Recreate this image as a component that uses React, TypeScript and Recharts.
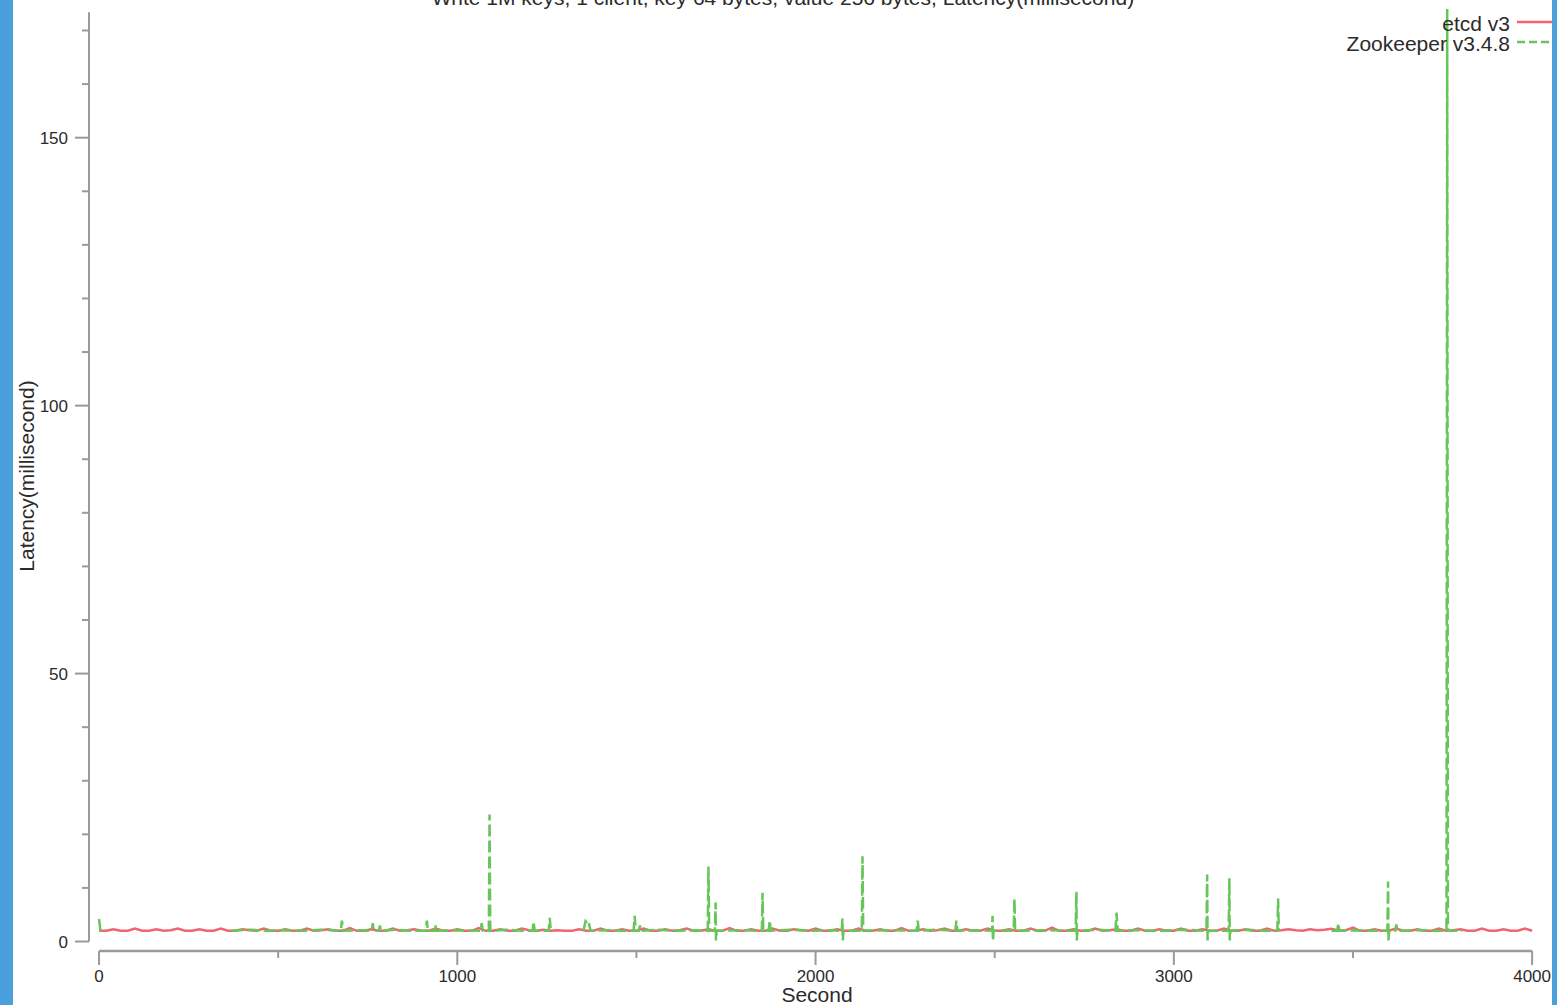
import React from 'react';
import { LineChart, Line, XAxis, YAxis, ReferenceLine } from 'recharts';

const TITLE = 'Write 1M keys, 1 client, key 64 bytes, value 256 bytes, Latency(millisecond)';
const X_LABEL = 'Second';
const Y_LABEL = 'Latency(millisecond)';
const ETCD_NAME = 'etcd v3';
const ZK_NAME = 'Zookeeper v3.4.8';

const xTicks = [0, 500, 1000, 1500, 2000, 2500, 3000, 3500, 4000];
const xLabelled = [0, 1000, 2000, 3000, 4000];
const yTicks = [0, 10, 20, 30, 40, 50, 60, 70, 80, 90, 100, 110, 120, 130, 140, 150, 160, 170];
const yLabelled = [0, 50, 100, 150];

// etcd samples, one every 20 seconds from 0 to 4000
const ETCD_STEP = 20;
const etcdLatency = [
  2.0, 2.0, 2.3, 2.0, 2.0, 2.4, 2.0, 2.0, 2.3, 2.0, 2.1, 2.4, 2.0, 2.0, 2.3,
  2.0, 2.0, 2.4, 2.0, 2.0, 2.3, 2.1, 2.0, 2.4, 2.0, 2.0, 2.3, 2.0, 2.0, 2.4,
  2.0, 2.1, 2.3, 2.0, 2.0, 2.5, 2.0, 2.0, 2.3, 2.0, 2.0, 2.4, 2.0, 2.1, 2.3,
  2.0, 2.0, 2.4, 2.0, 2.0, 2.3, 2.0, 2.0, 2.5, 2.0, 2.0, 2.3, 2.0, 2.0, 2.4,
  2.1, 2.0, 2.2, 2.0, 2.1, 2.0, 2.0, 2.3, 2.0, 2.0, 2.4, 2.0, 2.0, 2.3, 2.0,
  2.0, 2.4, 2.0, 2.0, 2.3, 2.0, 2.1, 2.4, 2.0, 2.0, 2.3, 2.0, 2.0, 2.5, 2.0,
  2.0, 2.3, 2.0, 2.0, 2.4, 2.0, 2.0, 2.3, 2.1, 2.0, 2.4, 2.0, 2.0, 2.3, 2.0,
  2.0, 2.4, 2.0, 2.0, 2.3, 2.0, 2.0, 2.5, 2.0, 2.0, 2.3, 2.0, 2.1, 2.4, 2.0,
  2.0, 2.3, 2.0, 2.0, 2.4, 2.0, 2.0, 2.3, 2.0, 2.0, 2.4, 2.0, 2.0, 2.6, 2.0,
  2.0, 2.3, 2.0, 2.0, 2.4, 2.0, 2.1, 2.3, 2.0, 2.0, 2.4, 2.0, 2.0, 2.3, 2.0,
  2.0, 2.4, 2.0, 2.0, 2.3, 2.0, 2.0, 2.4, 2.0, 2.0, 2.3, 2.0, 2.0, 2.4, 2.0,
  2.1, 2.3, 2.1, 2.0, 2.3, 2.1, 2.2, 2.4, 2.0, 2.1, 2.6, 2.0, 2.0, 2.3, 2.0,
  2.0, 2.4, 2.0, 2.0, 2.3, 2.0, 2.0, 2.4, 2.0, 2.1, 2.3, 2.0, 2.0, 2.4, 2.0,
  2.0, 2.3, 2.0, 2.0, 2.4, 2.0,
];

// zookeeper: [second, latency]; null = no sample (gap in the line)
const zookeeper: [number, number | null][] = [
  [0, 4.2], [4, 2.0], [8, 2.0], [10, null],
  [370, 2.0], [420, 2.2], [470, 2.0], [520, 2.1], [570, 2.0], [620, 2.2], [675, 2.0], [678, 3.9], [681, 2.0],
  [720, 2.1], [761, 2.0], [764, 3.4], [767, 2.0], [781, 2.0], [784, 3.0], [787, 2.0], [830, 2.2], [870, 2.0],
  [912, 2.0], [915, 3.9], [918, 2.0], [937, 2.0], [940, 3.0], [943, 2.0], [1000, 2.1], [1065, 2.0], [1068, 3.4],
  [1071, 2.0], [1088, 2.0], [1090, 23.7], [1092, 2.0], [1140, 2.2], [1180, 2.0], [1210, 2.0], [1213, 3.7],
  [1216, 2.0], [1255, 2.0], [1258, 4.4], [1261, 2.0], [1263, null],
  [1352, 2.0], [1358, 3.8], [1362, 3.5], [1366, 3.8], [1372, 2.0], [1420, 2.1], [1460, 2.0], [1492, 2.0],
  [1495, 4.8], [1498, 2.0], [1507, 2.0], [1510, 3.0], [1513, 2.0], [1560, 2.2], [1610, 2.0], [1660, 2.1],
  [1699, 2.0], [1701, 14.0], [1703, 2.0], [1719, 2.0], [1721, 7.3], [1722, 0.2], [1724, 2.0], [1790, 2.1],
  [1850, 2.0], [1852, 9.1], [1854, 2.0], [1869, 2.0], [1872, 3.9], [1875, 2.0], [1930, 2.2], [1990, 2.0],
  [2040, 2.1], [2073, 2.0], [2075, 4.3], [2076, 0.2], [2078, 2.0], [2129, 2.0], [2131, 15.9], [2133, 2.0],
  [2200, 2.1], [2282, 2.0], [2285, 3.9], [2288, 2.0], [2340, 2.2], [2390, 2.0], [2393, 3.9], [2396, 2.0],
  [2450, 2.1], [2492, 2.0], [2494, 4.8], [2495, 0.2], [2497, 2.0], [2553, 2.0], [2555, 8.0], [2557, 2.0],
  [2640, 2.1], [2726, 2.0], [2728, 9.3], [2729, 0.2], [2731, 2.0], [2790, 2.2], [2837, 2.0], [2840, 5.4],
  [2843, 2.0], [2900, 2.1], [2960, 2.0], [3030, 2.2], [3091, 2.0], [3093, 12.5], [3094, 0.2], [3096, 2.0],
  [3153, 2.0], [3155, 11.8], [3156, 0.2], [3158, 2.0], [3210, 2.2], [3250, 2.0], [3289, 2.0], [3291, 8.0],
  [3293, 2.0], [3295, null],
  [3440, 2.0], [3456, 2.0], [3459, 3.4], [3462, 2.0], [3510, 2.1], [3560, 2.0], [3596, 2.0], [3598, 11.2],
  [3599, 0.2], [3601, 2.0], [3618, 2.0], [3621, 3.2], [3624, 2.0], [3680, 2.1], [3730, 2.0], [3761, 2.0],
  [3763, 174], [3765, 2.0], [3805, 2.0],
];

const RED = '#f0656f';
const GREEN = '#66c65a';
const AXIS = '#9a9a9a';
const TEXT = '#2b2b2b';
const BLUE = '#4aa0dc';
const FONT = '"Liberation Sans", Arial, Helvetica, sans-serif';

const etcdData = etcdLatency.map((v, i) => ({ t: i * ETCD_STEP, v }));
const zkData = zookeeper.map(([t, v]) => ({ t, v }));

const XTick = ({ x, y, payload }: any) => {
  const major = xLabelled.includes(payload.value);
  return (
    <g>
      <line x1={x} x2={x} y1={y} y2={y + (major ? 14 : 7)} stroke={AXIS} strokeWidth={2} />
      {major && (
        <text x={x} y={y + 31} textAnchor="middle" fontSize={17} fill={TEXT} fontFamily={FONT}>
          {payload.value}
        </text>
      )}
    </g>
  );
};

const YTick = ({ x, y, payload }: any) => {
  const major = yLabelled.includes(payload.value);
  return (
    <g>
      <line x1={x - (major ? 14 : 7)} x2={x} y1={y} y2={y} stroke={AXIS} strokeWidth={2} />
      {major && (
        <text x={x - 21} y={y + 6} textAnchor="end" fontSize={17} fill={TEXT} fontFamily={FONT}>
          {payload.value}
        </text>
      )}
    </g>
  );
};

const LegendRow = ({ label, color, dash, top }: { label: string; color: string; dash?: string; top: number }) => (
  <div style={{ position: 'absolute', top, right: 0, height: 20, display: 'flex', alignItems: 'center' }}>
    <span style={{ fontSize: 21, lineHeight: '20px', color: TEXT, marginTop: 4 }}>{label}</span>
    <svg width={40} height={20} style={{ marginLeft: 7 }}>
      <line x1={0} x2={40} y1={10} y2={10} stroke={color} strokeWidth={2.5} strokeDasharray={dash} />
    </svg>
  </div>
);

export default function App() {
  return (
    <div
      style={{
        position: 'fixed', left: 0, top: 0, width: 1557, height: 1005,
        background: '#fff', overflow: 'hidden', fontFamily: FONT,
      }}
    >
      <div
        style={{
          position: 'absolute', top: -13, left: 283, width: 1000, textAlign: 'center',
          fontSize: 21, lineHeight: '21px', color: TEXT, whiteSpace: 'nowrap',
        }}
      >
        {TITLE}
      </div>

      <LineChart
        width={1557}
        height={1005}
        margin={{ top: 8, right: 17, left: 0, bottom: 0 }}
        style={{ position: 'absolute', left: 0, top: 0 }}
      >
        <XAxis
          type="number"
          dataKey="t"
          domain={[-28, 4022]}
          allowDataOverflow
          ticks={xTicks}
          interval={0}
          height={54}
          axisLine={false}
          tickLine={false}
          tickSize={0}
          tickMargin={0}
          tick={<XTick />}
        />
        <YAxis
          type="number"
          domain={[-1.77, 174.2]}
          allowDataOverflow
          ticks={yTicks}
          interval={0}
          width={89}
          axisLine={false}
          tickLine={false}
          tickSize={0}
          tickMargin={0}
          tick={<YTick />}
        />
        <ReferenceLine
          segment={[{ x: 0, y: -1.77 }, { x: 4000, y: -1.77 }]}
          stroke={AXIS}
          strokeWidth={2.5}
          ifOverflow="visible"
        />
        <ReferenceLine
          segment={[{ x: -28, y: 0 }, { x: -28, y: 173.4 }]}
          stroke={AXIS}
          strokeWidth={2}
          ifOverflow="visible"
        />
        <Line
          data={etcdData}
          dataKey="v"
          name={ETCD_NAME}
          type="linear"
          stroke={RED}
          strokeWidth={2.5}
          dot={false}
          activeDot={false}
          isAnimationActive={false}
        />
        <Line
          data={zkData}
          dataKey="v"
          name={ZK_NAME}
          type="linear"
          stroke={GREEN}
          strokeWidth={2.5}
          strokeDasharray="12 4"
          dot={false}
          activeDot={false}
          connectNulls={false}
          isAnimationActive={false}
        />
      </LineChart>

      <div
        style={{
          position: 'absolute', left: 26, top: 476, transform: 'translate(-50%, -50%) rotate(-90deg)',
          fontSize: 21, lineHeight: '21px', color: TEXT, whiteSpace: 'nowrap',
        }}
      >
        {Y_LABEL}
      </div>
      <div
        style={{
          position: 'absolute', left: 617, top: 984, width: 400, textAlign: 'center',
          fontSize: 21, lineHeight: '21px', color: TEXT,
        }}
      >
        {X_LABEL}
      </div>

      <div style={{ position: 'absolute', top: 0, left: 1200, width: 357, height: 60 }}>
        <LegendRow label={ETCD_NAME} color={RED} top={12} />
        <LegendRow label={ZK_NAME} color={GREEN} dash="8 4" top={32} />
      </div>

      <div style={{ position: 'absolute', left: 0, top: 0, width: 13, height: 1005, background: BLUE }} />
      <div style={{ position: 'absolute', left: 1552, top: 0, width: 5, height: 1005, background: BLUE }} />
    </div>
  );
}
